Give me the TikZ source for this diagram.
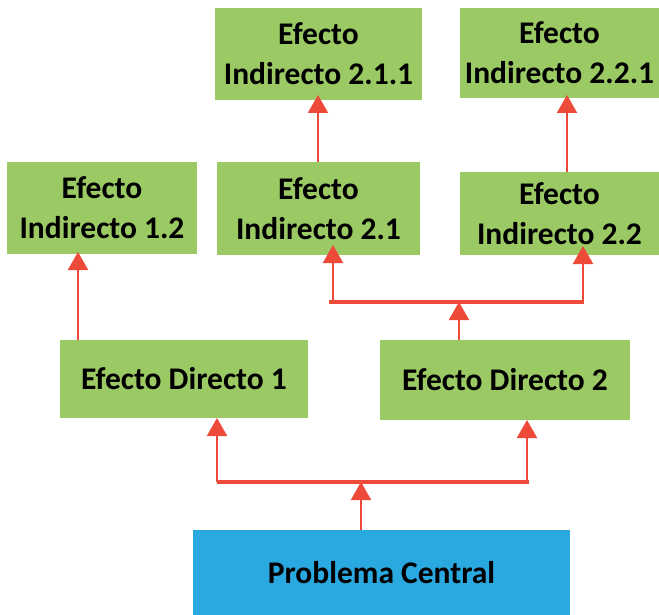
\documentclass[tikz,border=0pt]{standalone}
\usepackage{fontspec}
\setmainfont{Carlito}
\usetikzlibrary{arrows.meta}
\definecolor{boxgreen}{HTML}{9BC964}
\definecolor{boxblue}{HTML}{2AA8E0}
\definecolor{linkred}{HTML}{EE4A3A}
\tikzset{
  effbox/.style={rectangle, fill=boxgreen, inner sep=0pt, align=center,
    font=\bfseries\fontsize{31.5}{40}\selectfont},
  corebox/.style={rectangle, fill=boxblue, inner sep=0pt, align=center,
    font=\bfseries\fontsize{31.5}{40}\selectfont},
  link/.style={draw=linkred, line width=2pt,
    -{Triangle[length=18pt,width=20pt]}},
  bar/.style={draw=linkred, line width=4pt}
}
\begin{document}
\begin{tikzpicture}[x=1pt,y=-1pt]
\useasboundingbox (0,0) rectangle (659,615);
% boxes
\node[effbox, minimum width=207pt, minimum height=92pt] (i211) at (318.5,54) {Efecto\\Indirecto 2.1.1};
\node[effbox, minimum width=199pt, minimum height=90pt] (i221) at (559.5,53) {Efecto\\Indirecto 2.2.1};
\node[effbox, minimum width=190pt, minimum height=92pt] (i12) at (102,208) {Efecto\\Indirecto 1.2};
\node[effbox, minimum width=203pt, minimum height=93pt] (i21) at (318.5,208.5) {Efecto\\Indirecto 2.1};
\node[effbox, minimum width=199pt, minimum height=83pt] (i22) at (559.5,213.5) {Efecto\\Indirecto 2.2};
\node[effbox, minimum width=248pt, minimum height=78pt] (d1) at (184,379) {Efecto Directo 1};
\node[effbox, minimum width=250pt, minimum height=80pt] (d2) at (505,380) {Efecto Directo 2};
\node[corebox, minimum width=377pt, minimum height=85pt] (pc) at (381.5,572.5) {Problema Central};
% junction bars
\coordinate (b1l) at (217,482);
\coordinate (b1r) at (529,482);
\coordinate (b1m) at (361,482);
\coordinate (b2l) at (329,302);
\coordinate (b2r) at (584,302);
\coordinate (b2m) at (459,302);
\draw[bar] (b1l) -- (b1r);
\draw[bar] (b2l) -- (b2r);
% connectors
\draw[link] (pc.north -| b1m) -- (b1m);
\draw[link] (b1l) -- (217,418);
\draw[link] (527,482) -- (527,420);
\draw[link] (d2.north -| b2m) -- (b2m);
\draw[link] (333,302) -- (333,245);
\draw[link] (583,302) -- (583,246);
\draw[link] (d1.north -| 78,0) -- (78,252);
\draw[link] (i21.north -| 318,0) -- (318,95);
\draw[link] (i22.north -| 567,0) -- (567,95);
\end{tikzpicture}
\end{document}
